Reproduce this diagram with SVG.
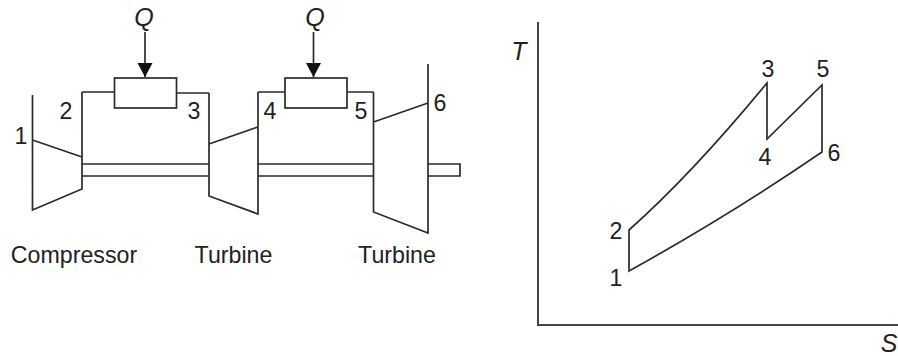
<svg xmlns="http://www.w3.org/2000/svg" width="898" height="356" viewBox="0 0 898 356">
<style>
.l{fill:none;stroke:#2b2b2b;stroke-width:1.7;stroke-linejoin:miter}
.a{fill:none;stroke:#444;stroke-width:2}
text{font-family:"Liberation Sans",Arial,sans-serif;font-size:23.2px;fill:#222}
.i{font-style:italic;font-size:25px}
.m{text-anchor:middle}
</style>
<defs><marker id="h" markerUnits="userSpaceOnUse" markerWidth="16" markerHeight="16" refX="14" refY="8" orient="auto"><path d="M0 0.500L14 8L0 15.500Z" fill="#111"/></marker></defs>
<rect width="898" height="356" fill="#fff"/>
<g id="compressor"><path class="l" d="M32.500 95V210L82 189V92M32.500 140L82 157"/><text class="m" x="74" y="263">Compressor</text></g>
<g id="burner1"><rect class="l" x="114.500" y="78" width="62" height="30"/></g>
<g id="turbine1"><path class="l" d="M209 93V196L258 214V92M209 144L258 127"/><text class="m" x="233.500" y="263">Turbine</text></g>
<g id="burner2"><rect class="l" x="285" y="78" width="62" height="30"/></g>
<g id="turbine2"><path class="l" d="M373.500 92V212L428 233V64M373.500 122L428 103"/><text class="m" x="397" y="263">Turbine</text></g>
<g id="connectors">
<path class="l" d="M82 92H114.500M176.500 93H209M258 92H285M347 92H373.500"/>
<path class="l" d="M82 164H209M82 176H209M258 164H373.500M258 176H373.500M428 164H460V176H428"/>
<path class="l" marker-end="url(#h)" d="M145 32V77"/>
<path class="l" marker-end="url(#h)" d="M313.500 32V77"/>
</g>
<g id="labels">
<text class="i m" x="144" y="26">Q</text><text class="i m" x="315" y="26">Q</text>
<text class="m" x="21" y="144">1</text><text class="m" x="66" y="119">2</text><text class="m" x="194" y="119">3</text><text class="m" x="270" y="119">4</text><text class="m" x="361" y="119">5</text><text class="m" x="440" y="111">6</text>
</g>
<g id="ts">
<path class="a" d="M538 22V325H898"/>
<path class="l" d="M629 271V230Q692 174 767 83V139L822 85V152Q730 215 629 271Z"/>
<text class="i m" x="519" y="60">T</text><text class="i m" x="889" y="352">S</text>
<text class="m" x="616" y="286">1</text><text class="m" x="616" y="239">2</text><text class="m" x="768" y="77">3</text><text class="m" x="765" y="165">4</text><text class="m" x="823" y="77">5</text><text class="m" x="834" y="161">6</text>
</g>
</svg>
